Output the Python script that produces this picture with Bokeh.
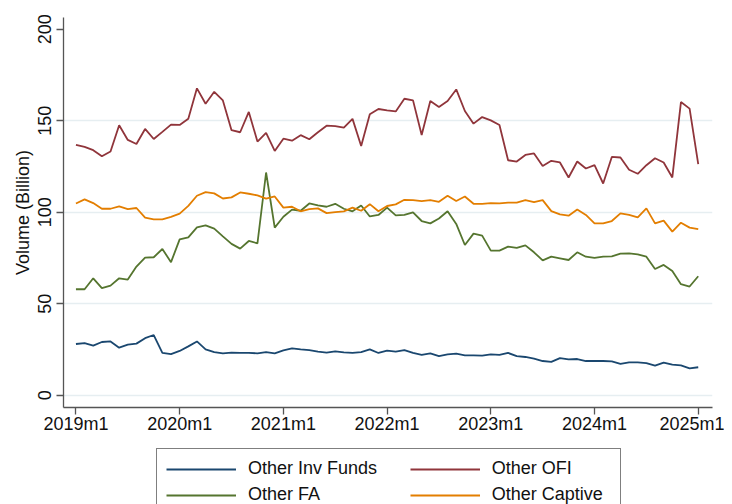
from bokeh.plotting import figure
from bokeh.layouts import column
from bokeh.models import Range1d, FixedTicker, Legend, LegendItem, ColumnDataSource
from bokeh.embed import file_html
from bokeh.resources import INLINE

# month index 0 = 2019m1 ... 72 = 2025m1
month_labels = [f"{2019 + i // 12}m{i % 12 + 1}" for i in range(73)]
x_tick_positions = [0, 12, 24, 36, 48, 60, 72]
x_tick_labels = ["2019m1", "2020m1", "2021m1", "2022m1", "2023m1", "2024m1", "2025m1"]
y_ticks = [0, 50, 100, 150, 200]
y_grid = [0, 50, 100, 150]

other_inv_funds = [
    28.0, 28.5, 27.1, 29.1, 29.4, 26.0, 27.6, 28.2, 31.2, 32.9, 23.1, 22.5,
    24.2, 26.7, 29.4, 25.1, 23.6, 22.9, 23.3, 23.1, 23.1, 22.9, 23.6, 22.9,
    24.5, 25.6, 25.1, 24.7, 23.8, 23.3, 24.0, 23.4, 23.1, 23.6, 25.1, 23.1,
    24.4, 23.8, 24.7, 23.1, 22.0, 22.9, 21.4, 22.3, 22.7, 21.8, 21.8, 21.6,
    22.3, 22.0, 23.1, 21.4, 20.9, 20.0, 18.7, 18.2, 20.3, 19.6, 19.8, 18.7,
    18.7, 18.7, 18.5, 17.1, 18.0, 18.0, 17.6, 16.2, 17.8, 16.7, 16.3, 14.7,
    15.3,
]
other_ofi = [
    136.8, 135.7, 133.9, 130.6, 133.2, 147.5, 139.5, 137.3, 145.5, 140.0, 143.9, 147.9,
    147.7, 151.1, 167.7, 159.3, 165.8, 161.1, 144.8, 143.7, 154.8, 138.6, 143.3, 133.5,
    140.2, 139.1, 142.1, 139.9, 143.7, 147.3, 147.1, 146.2, 151.0, 136.2, 153.5, 156.4,
    155.7, 155.1, 162.0, 161.1, 142.2, 160.8, 157.5, 160.8, 167.1, 155.3, 148.4, 152.0,
    150.2, 147.7, 128.4, 127.7, 131.3, 132.1, 125.3, 128.1, 127.2, 119.0, 127.7, 123.9,
    125.7, 115.7, 130.2, 129.9, 123.2, 121.0, 125.7, 129.5, 127.2, 119.0, 160.2, 156.6,
    126.3,
]
other_fa = [
    57.9, 57.9, 63.9, 58.5, 59.9, 63.9, 63.2, 70.3, 75.2, 75.4, 79.9, 72.7,
    85.2, 86.3, 91.7, 92.8, 91.0, 86.8, 82.7, 80.1, 84.3, 83.0, 121.7, 91.6,
    97.5, 101.4, 100.8, 104.8, 103.7, 103.0, 104.6, 101.9, 100.5, 103.7, 97.7, 98.5,
    102.5, 98.3, 98.5, 99.9, 95.2, 93.9, 96.6, 100.5, 93.6, 82.1, 88.3, 87.2,
    79.0, 79.0, 81.2, 80.5, 81.9, 78.1, 73.7, 75.7, 74.8, 73.9, 78.1, 75.7,
    75.0, 75.7, 75.9, 77.4, 77.5, 77.0, 75.7, 69.0, 71.2, 67.9, 60.7, 59.4,
    65.0,
]
other_captive = [
    104.8, 107.0, 105.0, 101.9, 101.9, 103.2, 101.7, 102.3, 97.0, 96.1, 96.1, 97.5,
    99.2, 103.5, 109.0, 111.0, 110.3, 107.5, 108.1, 110.8, 110.1, 109.2, 107.4, 108.6,
    102.5, 103.0, 100.5, 101.7, 102.1, 99.5, 100.1, 100.5, 102.5, 100.8, 104.4, 100.5,
    103.4, 104.3, 106.8, 106.6, 106.1, 106.6, 105.7, 109.0, 106.1, 108.6, 104.6, 104.6,
    105.0, 104.8, 105.2, 105.2, 106.6, 105.5, 106.6, 100.6, 98.8, 98.1, 101.5, 98.5,
    93.9, 93.9, 95.2, 99.4, 98.6, 97.2, 102.1, 93.9, 95.4, 89.4, 94.3, 91.6,
    90.8,
]

series_names = ["Other Inv Funds", "Other OFI", "Other FA", "Other Captive"]
series_colors = ["#1a476f", "#90353b", "#55752f", "#e37e00"]
series_cols = ["inv", "ofi", "fa", "cap"]

source = ColumnDataSource(data=dict(
    month=list(range(len(month_labels))),
    label=month_labels,
    inv=other_inv_funds,
    ofi=other_ofi,
    fa=other_fa,
    cap=other_captive,
))

FONT = "Liberation Sans"
LINE_W = 1.8

# ---- main chart ----
p = figure(
    width=724, height=440,
    x_range=Range1d(-1.44, 73.65), y_range=Range1d(-6.7, 206.4),
    output_backend="svg", toolbar_location=None,
    min_border_left=63, min_border_right=12, min_border_top=17, min_border_bottom=33,
)
p.outline_line_color = None
p.background_fill_color = "white"
p.border_fill_color = "white"

for col, color in zip(series_cols, series_colors):
    p.line("month", col, source=source, line_color=color, line_width=LINE_W)

p.xaxis.ticker = FixedTicker(ticks=x_tick_positions)
p.xaxis.major_label_overrides = {t: l for t, l in zip(x_tick_positions, x_tick_labels)}
p.yaxis.ticker = FixedTicker(ticks=y_ticks)
for ax in (p.xaxis[0], p.yaxis[0]):
    ax.axis_line_color = "#555555"
    ax.axis_line_width = 1.3
    ax.major_tick_line_color = "#555555"
    ax.major_tick_line_width = 1.3
    ax.major_tick_out = 7
    ax.major_tick_in = 0
    ax.minor_tick_out = 0
    ax.minor_tick_in = 0
    ax.major_label_text_font = FONT
    ax.major_label_text_font_size = "18px"
    ax.major_label_text_color = "#111111"
p.xaxis.major_label_standoff = -1
p.yaxis.major_label_standoff = 5
p.yaxis.major_label_orientation = "vertical"
p.yaxis.axis_label = "Volume (Billion)"
p.yaxis.axis_label_text_font = FONT
p.yaxis.axis_label_text_font_size = "18px"
p.yaxis.axis_label_text_font_style = "normal"
p.yaxis.axis_label_text_color = "#111111"
p.yaxis.axis_label_standoff = 3

p.xgrid.visible = False
p.ygrid.ticker = FixedTicker(ticks=y_grid)
p.ygrid.grid_line_color = "#e6eef1"
p.ygrid.grid_line_width = 1.5

# ---- legend strip below the chart (series drawn out of view, only legend shows) ----
lp = figure(
    width=724, height=64,
    x_range=Range1d(-1.44, 73.65), y_range=Range1d(1000, 1001),
    x_axis_type=None, y_axis_type=None,
    output_backend="svg", toolbar_location=None,
    min_border=0, min_border_left=0, min_border_right=0, min_border_top=0, min_border_bottom=0,
)
lp.outline_line_color = None
lp.grid.visible = False
lp.background_fill_color = "white"
lp.border_fill_color = "white"

legend_renderers = {}
for col, name, color in zip(series_cols, series_names, series_colors):
    legend_renderers[name] = lp.line("month", col, source=source, line_color=color, line_width=LINE_W)

common = dict(
    orientation="vertical",
    ncols=1,
    nrows=2,
    glyph_width=70,
    glyph_height=20,
    label_height=20,
    label_standoff=12,
    spacing=5,
    padding=9,
    margin=0,
    label_text_font=FONT,
    label_text_font_size="18px",
    label_text_color="#111111",
)

# left column (its box spans both columns)
legend_left = Legend(
    items=[LegendItem(label=n, renderers=[legend_renderers[n]]) for n in (series_names[0], series_names[2])],
    location=(93, -11.3),
    label_width=363,
    border_line_color="black",
    border_line_width=1,
    background_fill_color="white",
    background_fill_alpha=1,
    **common,
)
# right column
legend_right = Legend(
    items=[LegendItem(label=n, renderers=[legend_renderers[n]]) for n in (series_names[1], series_names[3])],
    location=(346.7, -1.3),
    label_width=110,
    border_line_color=None,
    background_fill_alpha=0,
    **common,
)
lp.add_layout(legend_left, "center")
lp.add_layout(legend_right, "center")

layout = column(p, lp, spacing=0)
open("out.html", "w").write(file_html(layout, INLINE))
